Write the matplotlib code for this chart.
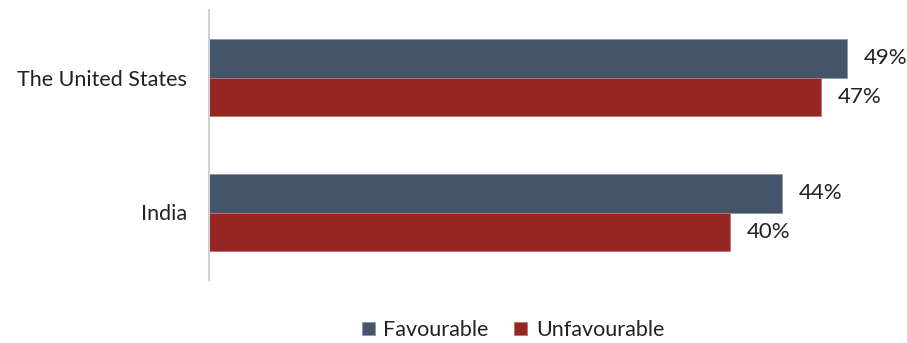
import matplotlib
matplotlib.use("Agg")
import matplotlib.pyplot as plt
import numpy as np

plt.rcParams['font.family'] = ['Lato', 'DejaVu Sans']

categories = ["India", "The United States"]
favourable = [44, 49]
unfavourable = [40, 47]
series_names = ["Favourable", "Unfavourable"]
colors = ["#44546A", "#952622"]

W, H = 907, 343
fig = plt.figure(figsize=(W/100, H/100), dpi=100)
left, right_px, top, bottom = 209, 209 + 13.02*52, 10, 280
ax = fig.add_axes([left/W, 1-bottom/H, (right_px-left)/W, (bottom-top)/H])

y = np.arange(len(categories))
bh = 0.285
b1 = ax.barh(y + bh/2, favourable, height=bh, color=colors[0], edgecolor="#8a96a8", linewidth=0.6, label=series_names[0])
b2 = ax.barh(y - bh/2, unfavourable, height=bh, color=colors[1], edgecolor="#c07070", linewidth=0.6, label=series_names[1])
for bars, vals in ((b1, favourable), (b2, unfavourable)):
    for r, v in zip(bars, vals):
        ax.text(v + 1.3, r.get_y() + r.get_height()/2, f"{v}%", va="center", ha="left",
                fontsize=16, color="#222222")

ax.set_xlim(0, 52)
ax.set_ylim(-0.5, 1.5)
ax.set_yticks(y)
ax.set_yticklabels(categories, fontsize=15.5, color="#222222")
ax.tick_params(axis='y', length=0, pad=16)
ax.set_xticks([])
for s in ("top", "right", "bottom"):
    ax.spines[s].set_visible(False)
ax.spines["left"].set_color("#d0d0d0")
ax.spines["left"].set_linewidth(1.5)

fig.legend(handles=[b1, b2], labels=series_names, loc="center", bbox_to_anchor=(513/W, 1-330/H),
           ncol=2, frameon=False, fontsize=15.5, handlelength=0.6, handleheight=0.6,
           handletextpad=0.4, columnspacing=1.2, labelcolor="#222222")

fig.savefig("out.png", dpi=100)
